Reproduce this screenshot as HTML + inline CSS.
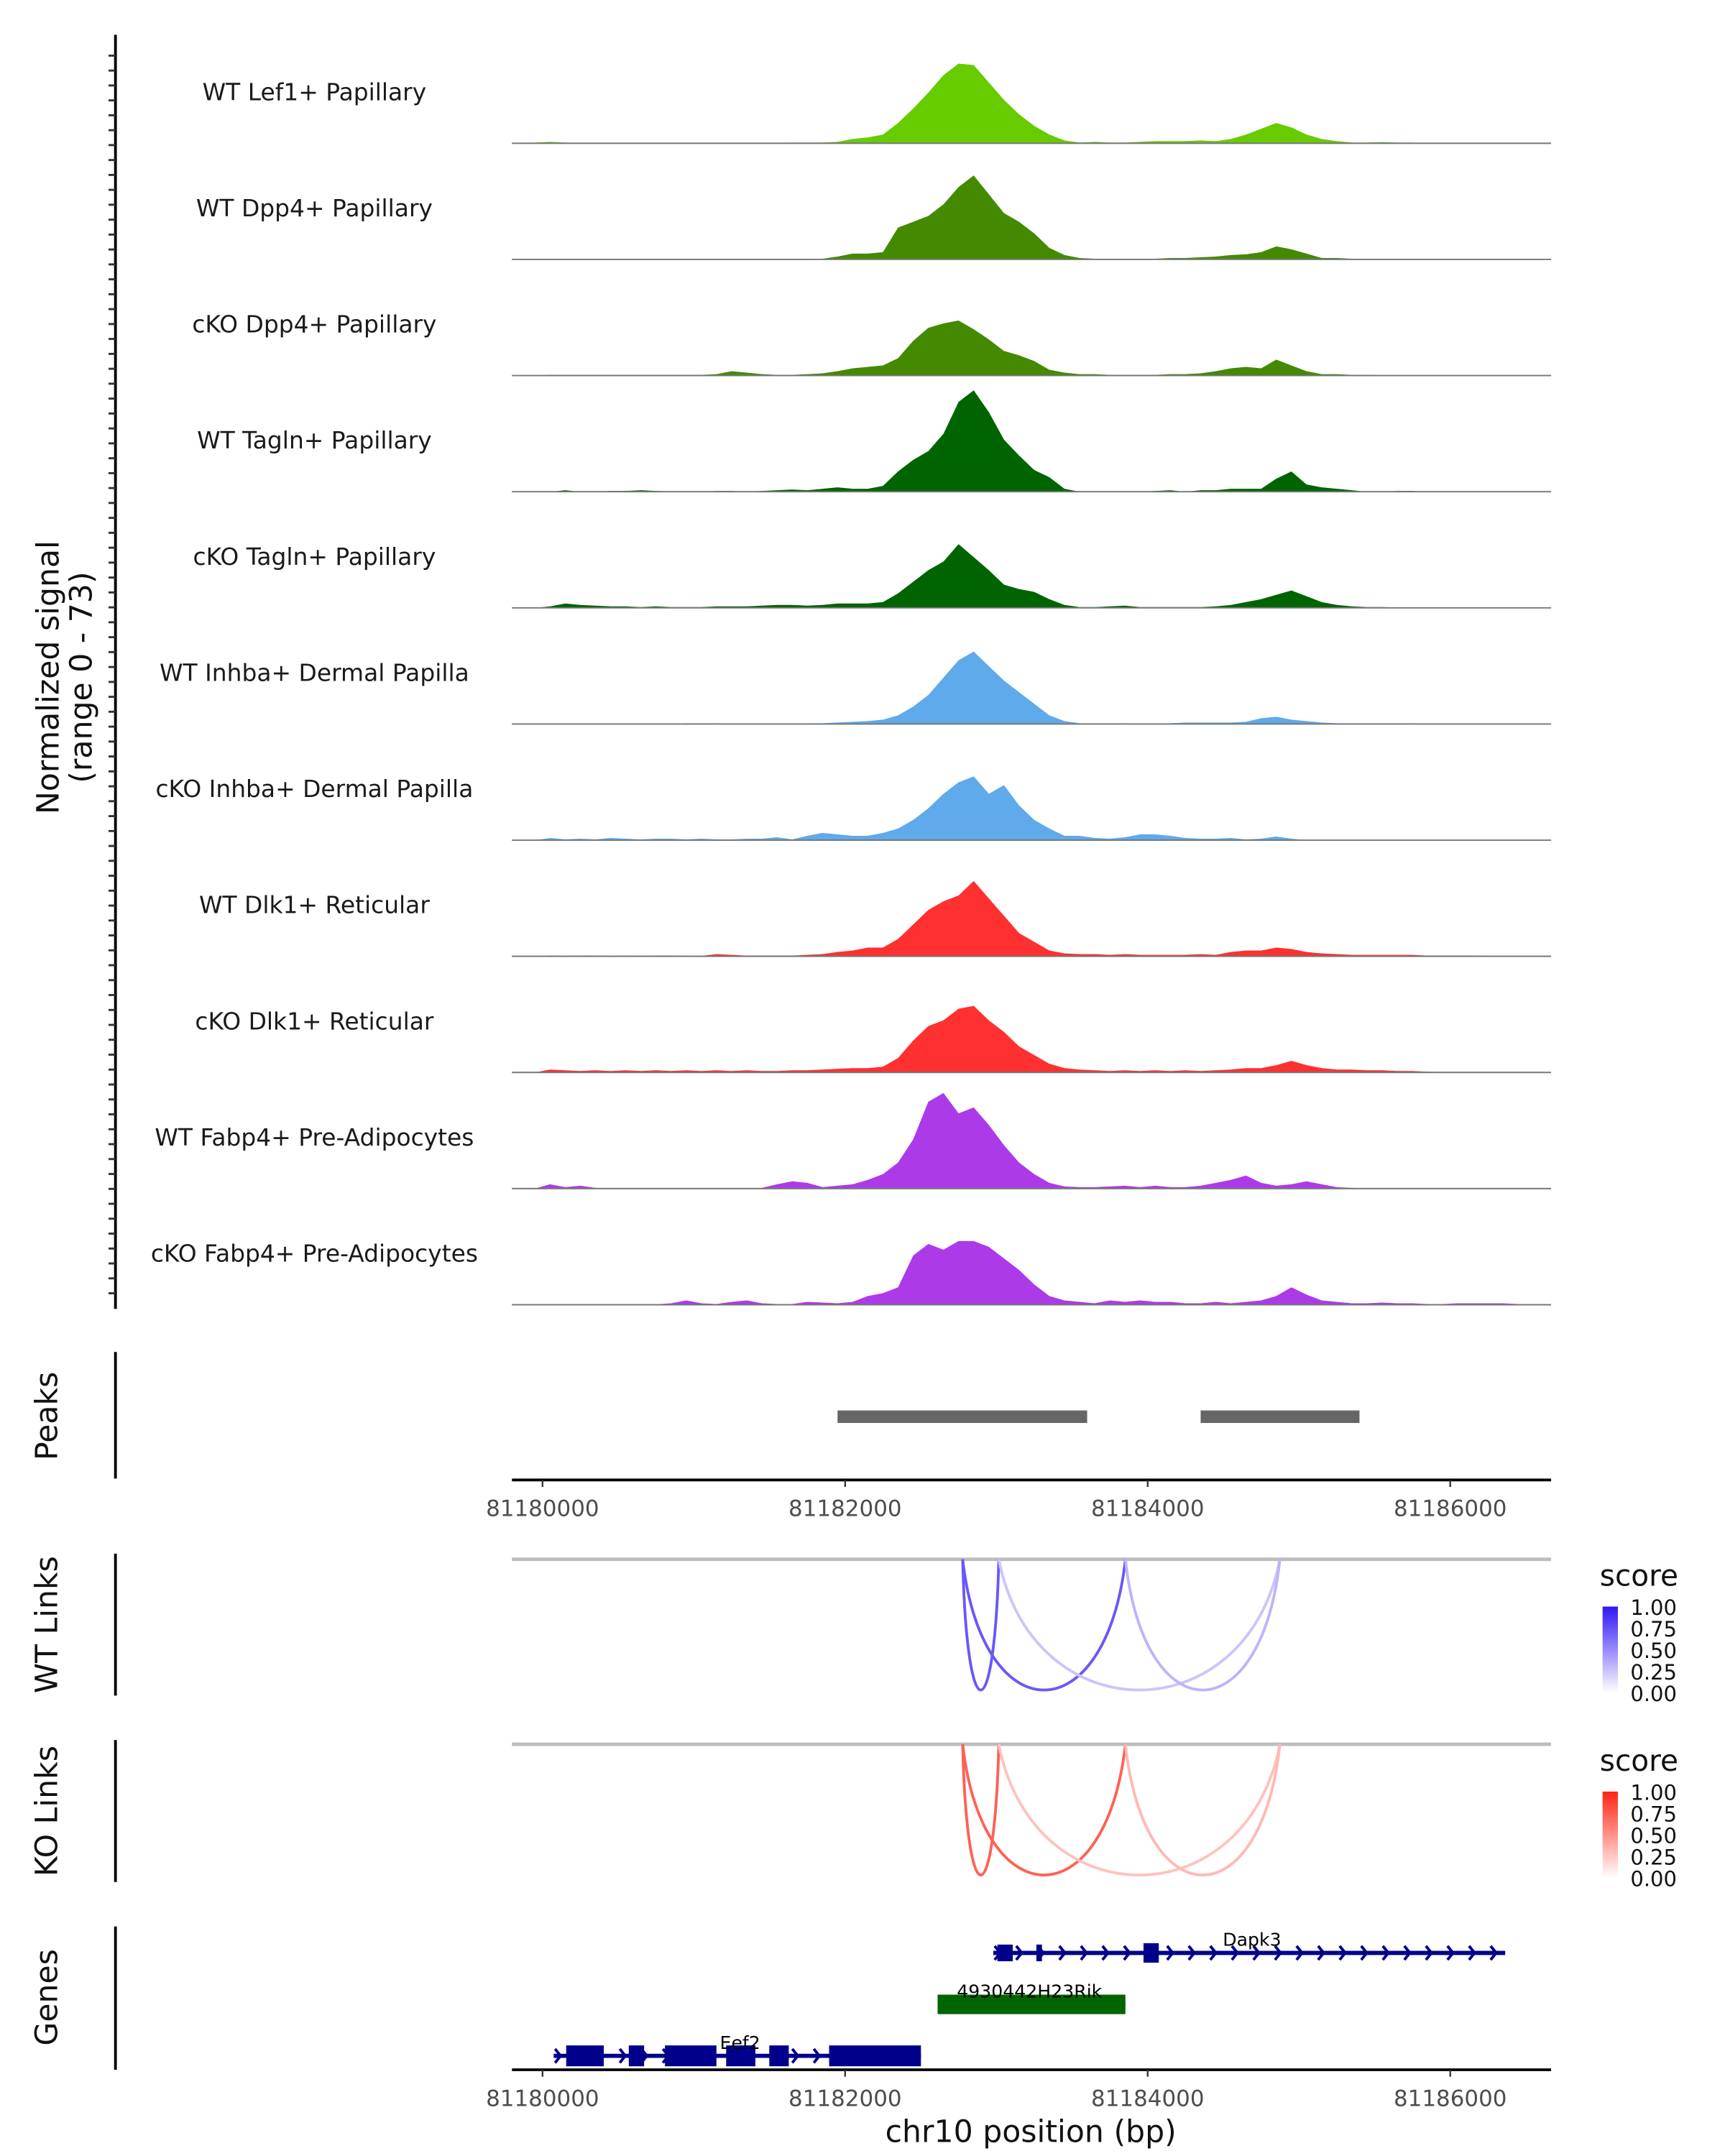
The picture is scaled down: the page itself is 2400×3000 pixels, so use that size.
<!DOCTYPE html>
<html><head><meta charset="utf-8">
<style>
html,body{margin:0;padding:0;background:#fff;}
svg{display:block;}
text{font-family:"DejaVu Sans","Liberation Sans",sans-serif;}
</style></head>
<body>
<svg id="chart" width="2400" height="3000" viewBox="0 0 1240 1550" xmlns="http://www.w3.org/2000/svg">
<g id="g-axes"></g>
<g id="g-tracks"></g>
<g id="g-peaks"></g>
<g id="g-links"></g>
<g id="g-genes"></g>
<text transform="translate(42,487) rotate(-90)" text-anchor="middle" font-size="22" fill="#111">Normalized signal</text>
<text transform="translate(66,487) rotate(-90)" text-anchor="middle" font-size="22" fill="#111">(range 0 - 73)</text>
<text transform="translate(41,1018) rotate(-90)" text-anchor="middle" font-size="22" fill="#111">Peaks</text>
<text transform="translate(41,1168) rotate(-90)" text-anchor="middle" font-size="22" fill="#111">WT Links</text>
<text transform="translate(41,1302) rotate(-90)" text-anchor="middle" font-size="22" fill="#111">KO Links</text>
<text transform="translate(41,1436) rotate(-90)" text-anchor="middle" font-size="22" fill="#111">Genes</text>
<text x="741" y="1540" text-anchor="middle" font-size="22" fill="#111">chr10 position (bp)</text>
<defs>
<linearGradient id="gradWT" x1="0" y1="1" x2="0" y2="0"><stop offset="0" stop-color="#ffffff"/><stop offset="1" stop-color="#2f17f5"/></linearGradient>
<linearGradient id="gradKO" x1="0" y1="1" x2="0" y2="0"><stop offset="0" stop-color="#ffffff"/><stop offset="1" stop-color="#ff2414"/></linearGradient>
</defs>
</svg>
<script>
const NS = "http://www.w3.org/2000/svg";
const trackLabels = ["WT Lef1+ Papillary","WT Dpp4+ Papillary","cKO Dpp4+ Papillary","WT Tagln+ Papillary","cKO Tagln+ Papillary","WT Inhba+ Dermal Papilla","cKO Inhba+ Dermal Papilla","WT Dlk1+ Reticular","cKO Dlk1+ Reticular","WT Fabp4+ Pre-Adipocytes","cKO Fabp4+ Pre-Adipocytes"];
const trackColors = ["#66cc00","#448a00","#448a00","#006400","#006400","#5eaaea","#5eaaea","#ff3030","#ff3030","#ad3ae8","#ad3ae8"];
const binStart = 81179800;
const binSize = 100;
const sigLef1 = [0,0.5,1,0.5,0.3,0.3,0.3,0.3,0.3,0.3,0.3,0.3,0.3,0.3,0.3,0.3,0.3,0.3,0.5,0.5,0.5,1,3,4,6,14,24,35,47,55,54,42,30,20,12,6,2,0.5,1,0.5,0.5,1,1.5,1.5,1.5,2,1.5,3,6,10,14,11,6,3,1.5,0.5,0.5,0.8,0.5,0.5,0,0,0,0,0,0,0,0,0];
const sigDpp4WT = [0,0,0.5,0.5,0.5,0.5,0.5,0.3,0.3,0.3,0.5,0.5,0.3,0.3,0.3,0.3,0.5,0.3,0.3,0.5,0.5,2,4,4,5,22,26,30,38,50,58,45,32,26,18,8,3,1,0.5,0.5,0.5,0.5,0.5,1,1,1.5,2,3,3.5,5,9,7,4,1,1,0.5,0.5,0.5,0.3,0.3,0.3,0.3,0,0,0,0,0,0,0];
const sigDpp4KO = [0,0,0.5,0.5,0.5,0.5,0.5,0.5,0.5,0.5,0.5,0.5,0.5,1,3,2,1,0.5,0.5,1,1.5,3,5,6,7,12,24,33,36,38,32,25,17,14,10,4,2,1,1,0.5,0.5,0.5,0.5,1,1,1.5,3,5,6,5,11,7,3,1,1,0.5,0.5,0.3,0.3,0.3,0,0,0,0,0,0,0,0,0];
const sigTaglnWT = [0,0,0,1,0,0,0.5,0.5,1,0.5,0.3,0.3,0,0.5,0.5,0,0.5,1,1.5,1,2,3,2,2,4,14,22,28,40,62,70,55,36,25,15,10,2,0,0,0,0,0,0.5,1,0,1,1,2,2,2,9,14,5,3,2,1,0,0,0.5,0.5,0,0,0,0,0,0,0,0,0];
const sigTaglnKO = [0,0,1,3,2,1.5,1,1,0.5,1,0.5,0.5,0.5,1,1,1,1.5,2,2,1.5,2,3,3,3,4,10,18,26,32,44,35,26,16,13,11,6,2,0.5,0.5,1,1.5,0.5,0.5,0.5,0.5,0.5,1,2,4,6,9,12,8,4,2,1,0.5,0.5,0.3,0,0,0,0,0,0,0,0,0,0];
const sigInhbaWT = [0,0,0,0.5,0.3,0.3,0.3,0.5,0.3,0.3,0.3,0.5,0.5,0.5,0.3,0.3,0.3,0.3,0.3,0.5,0.5,1,1.5,2,3,6,12,20,32,44,50,40,30,22,14,6,2,0.5,0.5,0.5,0.5,0.3,0.3,0.5,1,1,1,1,1.5,4,5,3,2,1,0.5,0.5,0.5,0.5,0.5,0.5,0.3,0,0,0,0,0,0,0,0];
const sigInhbaKO = [0,0,1.5,0.5,1,0.5,1.5,1,0.5,1,1,0.5,1,0.5,0.5,1,1,2,0.5,3,5,4,3,3,5,8,14,22,32,40,44,32,38,24,14,8,3,3,1.5,1,2,4,4,3,1.5,1,1,1.5,0.5,1,2.5,1,0,0,0,0,0,0,0,0,0,0,0,0,0,0,0,0,0];
const sigDlk1WT = [0,0,0.5,0.3,0.5,0.5,0.3,0.5,0.3,0.5,0.5,0.3,0.3,1.5,1,0.5,0.5,0.5,0.5,1,1.5,3,4,6,6,12,22,32,38,42,52,40,28,16,10,4,2,1.5,1.5,1,1.5,1,1,1,1,1.5,1,3,4,4,6,5,3,2,1.5,1,1,1,1,1,0.5,0.5,0.5,0.5,0.3,0.3,0,0,0];
const sigDlk1KO = [0,0,2,1.5,1,1.5,1,1.5,1,1.5,1,1.5,1,1.5,1,1.5,1,1,1.5,1.5,2,2.5,3,3,4,10,22,32,36,44,46,36,28,18,12,6,3,2,1.5,1,1.5,1,1.5,1,1.5,1,1.5,2,3,3,5,8,5,3,2,2,1.5,1.5,1,1,0.5,0.3,0,0,0,0,0,0,0];
const sigFabp4WT = [0,0,3,1,2,0.5,0.3,0.3,0.3,0.3,0.3,0.3,0.3,0.3,0.3,0.3,0.5,3,5,4,1,2,3,6,10,18,34,60,66,52,56,44,30,18,10,4,1.5,1,1,1.5,2,1,2,1,1,2,4,6,9,4,2,3,5,3,1,0.5,0.3,0,0,0,0,0,0,0,0,0,0,0,0];
const sigFabp4KO = [0,0,0.3,0.3,0.3,0.3,0.3,0.3,0.3,0.3,1,3,1,0.5,2,3,1,0.5,0.5,2,1.5,1,2,6,8,12,34,42,38,44,44,40,32,24,14,6,3,2,1,3,2,3,2,2,1,1,2,1,2,3,6,12,7,3,2,1,1,1.5,1,1,0.5,0.5,1,1,1,1,0.5,0.5,0];
const signals = [sigLef1,sigDpp4WT,sigDpp4KO,sigTaglnWT,sigTaglnKO,sigInhbaWT,sigInhbaKO,sigDlk1WT,sigDlk1KO,sigFabp4WT,sigFabp4KO];
const xTicks = [81180000,81182000,81184000,81186000];
const peakStarts = [81181950,81184350];
const peakEnds = [81183600,81185400];
const linkStarts = [81182777,81182777,81183016,81183853];
const linkEnds = [81183016,81183853,81184874,81184874];
const wtScores = [0.72,0.72,0.25,0.32];
const koScores = [0.72,0.72,0.28,0.32];
const legendTicks = ["1.00","0.75","0.50","0.25","0.00"];

const PX0 = 368, PX1 = 1115;
function xs(bp){ return 390 + (bp - 81180000) * 0.10875; }
function ys(v, base){ return base - v * 76 / 73; }
function el(tag, attrs, parent){ const e = document.createElementNS(NS, tag); for (const k in attrs) e.setAttribute(k, attrs[k]); parent.appendChild(e); return e; }

const gA = document.getElementById('g-axes');
let ax = el('line',{x1:83,y1:25,x2:83,y2:941,stroke:'#000','stroke-width':2},gA);


for (let y = 40; y <= 940; y += 10.72){
  const t = el('line',{x1:78,y1:y,x2:83,y2:y,stroke:'#333','stroke-width':1.5},gA);
  
  
}
[[972,1063,'peaks-y-axis-line'],[1117,1219,'wt-links-y-axis-line'],[1251,1353,'ko-links-y-axis-line'],[1385,1488,'genes-y-axis-line']].forEach(a=>{
  const l = el('line',{x1:83,y1:a[0],x2:83,y2:a[1],stroke:'#000','stroke-width':2},gA);
  
  
});
function xAxis(y, name){
  const l = el('line',{x1:PX0,y1:y,x2:PX1,y2:y,stroke:'#000','stroke-width':2},gA);
  
  
  xTicks.forEach(v=>{
    const t = el('line',{x1:xs(v),y1:y,x2:xs(v),y2:y+5,stroke:'#333','stroke-width':1.2},gA);
    
    
    const tx = el('text',{x:xs(v),y:y+26,'text-anchor':'middle','font-size':16,fill:'#4d4d4d'},gA);
    tx.textContent = v;
    
    
  });
}
xAxis(1064,'peaks-x-axis');
xAxis(1488,'genes-x-axis');

const gT = document.getElementById('g-tracks');
signals.forEach((arr, k)=>{
  const base = 103 + k * 83.5;
  let d = 'M' + PX0 + ',' + base;
  arr.forEach((v,i)=>{
    const x = xs(binStart + (i + 0.5) * binSize);
    if (x >= PX0 && x <= PX1) d += ' L' + x.toFixed(2) + ',' + ys(v, base).toFixed(2);
  });
  d += ' L' + PX1 + ',' + base + ' Z';
  const p = el('path',{d:d,fill:trackColors[k]},gT);
  
  
  const bl = el('line',{x1:PX0,y1:base,x2:PX1,y2:base,stroke:'#777','stroke-width':1},gT);
  
  
  const lb = el('text',{x:226,y:base-31,'text-anchor':'middle','font-size':17,fill:'#1a1a1a'},gT);
  lb.textContent = trackLabels[k];
  
  
});

const gP = document.getElementById('g-peaks');
peakStarts.forEach((s,i)=>{
  const r = el('rect',{x:xs(s),y:1014,width:xs(peakEnds[i])-xs(s),height:9,fill:'#666'},gP);
  
  
});

const gL = document.getElementById('g-links');
function scoreColor(s, kind){
  const c = kind==='wt' ? [47,23,245] : [255,36,20];
  const m = (a)=>Math.round(255 + (a - 255) * s);
  return 'rgb(' + m(c[0]) + ',' + m(c[1]) + ',' + m(c[2]) + ')';
}
function linksPanel(top, scores, kind, grad){
  const gl = el('line',{x1:PX0,y1:top,x2:PX1,y2:top,stroke:'#bdbdbd','stroke-width':2.5},gL);
  
  
  const depth = 94;
  linkStarts.forEach((s,i)=>{
    const x1 = xs(s), x2 = xs(linkEnds[i]);
    const c = top + depth / 0.75;
    const w = (x2 - x1) * 0.12;
    const p = el('path',{d:`M${x1},${top} C${x1+w},${c} ${x2-w},${c} ${x2},${top}`,fill:'none',stroke:scoreColor(scores[i],kind),'stroke-width':2},gL);
    
    
  });
  const lt = el('text',{x:1150,y:top+19,'font-size':21,fill:'#111'},gL);
  lt.textContent = 'score';
  
  
  const bar = el('rect',{x:1152,y:top+34,width:11,height:62,fill:'url(#'+grad+')'},gL);
  
  
  legendTicks.forEach((t,i)=>{
    const y = top + 34 + i * 15.5;
    const tx = el('text',{x:1172,y:y+6,'font-size':15,fill:'#111'},gL);
    tx.textContent = t;
    
    
  });
}
linksPanel(1121, wtScores, 'wt', 'gradWT');
linksPanel(1254, koScores, 'ko', 'gradKO');

const gG = document.getElementById('g-genes');
function gene(name, y, x1, x2, exons, color, labelX, arrows, label){
  const g = el('g',{},gG);
  
  
  el('line',{x1:x1,y1:y,x2:x2,y2:y,stroke:color,'stroke-width':3},g);
  if (arrows) for (let x = x1 + 4; x <= x2; x += 15.5){
    el('path',{d:`M${x-3},${y-5} L${x+1},${y} L${x-3},${y+5}`,fill:'none',stroke:color,'stroke-width':2},g);
  }
  exons.forEach(e=>{
    el('rect',{x:e[0],y:y-e[2]/2,width:e[1]-e[0],height:e[2],fill:color},g);
  });
  const t = el('text',{x:labelX,y:y-5,'text-anchor':'middle','font-size':13,fill:'#000'},g);
  t.textContent = label;
}
gene('gene-dapk3',1404,714,1082,[[717,728,12],[745,749,12],[822,833,14]],'#00008b',900,true,'Dapk3');
gene('gene-4930442h23rik',1441,674,809,[[674,809,14]],'#006400',740,false,'4930442H23Rik');
gene('gene-eef2',1478,398,662,[[407,434,15],[452,463,15],[478,515,15],[522,543,15],[553,567,15],[596,662,15]],'#00008b',532,true,'Eef2');
</script>
</body></html>
